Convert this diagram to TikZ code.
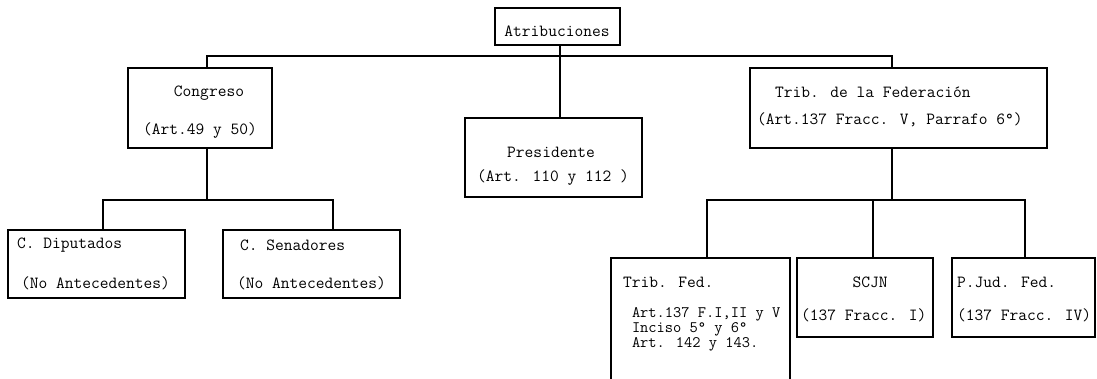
\documentclass[tikz,border=0pt]{standalone}
\usepackage{tikz}
\newcommand{\boxfont}{\ttfamily\fontsize{17}{20}\selectfont}
\newcommand{\notefont}{\ttfamily\fontsize{16}{14}\selectfont}
\tikzstyle{box}=[draw, line width=2.2pt, inner sep=0, outer sep=0]
\tikzstyle{boxtext}=[inner sep=0, outer sep=0, font=\boxfont]
\tikzstyle{notetext}=[boxtext, font=\notefont]
\tikzstyle{link}=[line width=1.8pt]
\tikzstyle{orgchart}=[x=1pt, y=-1pt,
                      % keep the page at the size of the scan
                      execute at begin picture={\useasboundingbox (0,0) rectangle (1097,378);}]

\begin{document}
\begin{tikzpicture}[orgchart]
        \node[box, minimum width=125, minimum height=37] (atrib) at (557.5, 26.5) {};
        \node[boxtext] (atribT) at (557, 31) {Atribuciones};
        \node[box, minimum width=144, minimum height=80] (congreso) at (200, 108) {};
        \node[boxtext] (congreso1) at (209, 93) {Congreso};
        \node[boxtext] (congreso2) at (200, 131) {(Art.49 y 50)};
        \node[box, minimum width=177, minimum height=79] (presidente) at (553.5, 157.5) {};
        \node[boxtext] (presidente1) at (551, 152) {Presidente};
        \node[boxtext] (presidente2) at (553, 178) {(Art. 110 y 112 )};
        \node[box, minimum width=297, minimum height=80] (trib) at (898.5, 108) {};
        \node[boxtext, anchor=west] (trib1) at (775, 92) {Trib. de la Federación};
        \node[boxtext, anchor=west] (trib2) at (757, 120) {(Art.137 Fracc. V, Parrafo 6°)};
        \node[box, minimum width=177, minimum height=68] (diputados) at (96.5, 264) {};
        \node[boxtext, anchor=west] (diputados1) at (17, 245) {C. Diputados};
        \node[boxtext, anchor=west] (diputados2) at (21, 283) {(No Antecedentes)};
        \node[box, minimum width=177, minimum height=68] (senadores) at (311.5, 264) {};
        \node[boxtext, anchor=west] (senadores1) at (240, 245) {C. Senadores};
        \node[boxtext, anchor=west] (senadores2) at (237, 283) {(No Antecedentes)};
        \node[box, minimum width=179, minimum height=134] (tribfed) at (700.5, 325) {};
        \node[boxtext, anchor=west] (tribfed1) at (623, 282) {Trib. Fed.};
        \node[notetext, anchor=west] (tribfed2) at (632, 314) {Art.137 F.I,II y V};
        \node[notetext, anchor=west] (tribfed3) at (632, 329) {Inciso 5° y 6°};
        \node[notetext, anchor=west] (tribfed4) at (632, 344) {Art. 142 y 143.};
        \node[box, minimum width=136, minimum height=79] (scjn) at (865, 297.5) {};
        \node[boxtext] (scjn1) at (870, 282) {SCJN};
        \node[boxtext, anchor=west] (scjn2) at (801, 315) {(137 Fracc. I)};
        \node[box, minimum width=143, minimum height=79] (pjud) at (1023.5, 297.5) {};
        \node[boxtext, anchor=west] (pjud1) at (957, 282) {P.Jud. Fed.};
        \node[boxtext, anchor=west] (pjud2) at (957, 315) {(137 Fracc. IV)};
        % bus lines
        \coordinate (congS) at (207, 56);
        \coordinate (presS) at (560, 56);
        \coordinate (tribS) at (892, 56);
        \coordinate (congB) at (207, 200);
        \coordinate (dipS) at (103, 200);
        \coordinate (senS) at (333, 200);
        \coordinate (tribB) at (892, 200);
        \coordinate (tfS) at (707, 200);
        \coordinate (scS) at (873, 200);
        \coordinate (pjS) at (1025, 200);
        \draw[link] (atrib.south -| presS) -- (presidente.north -| presS);
        \draw[link] (congreso.north -| congS) -- (congS) -- (tribS) -- (trib.north -| tribS);
        \draw[link] (congreso.south -| congB) -- (congB);
        \draw[link] (diputados.north -| dipS) -- (dipS) -- (senS) -- (senadores.north -| senS);
        \draw[link] (trib.south -| tribB) -- (tribB);
        \draw[link] (tribfed.north -| tfS) -- (tfS) -- (pjS) -- (pjud.north -| pjS);
        \draw[link] (scjn.north -| scS) -- (scS);
    \end{tikzpicture}
\end{document}
